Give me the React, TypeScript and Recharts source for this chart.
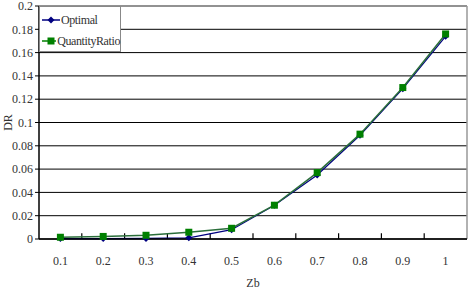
import React from 'react';
import { CartesianGrid, Line, LineChart, ReferenceLine, XAxis, YAxis } from 'recharts';

const zb = [0.1, 0.2, 0.3, 0.4, 0.5, 0.6, 0.7, 0.8, 0.9, 1];
const optimal = [0.0004, 0.0004, 0.0005, 0.001, 0.008, 0.029, 0.055, 0.089, 0.129, 0.174];
const quantityRatio = [0.0015, 0.0022, 0.0032, 0.0058, 0.0092, 0.029, 0.057, 0.09, 0.13, 0.176];
const yTicks = [0, 0.02, 0.04, 0.06, 0.08, 0.1, 0.12, 0.14, 0.16, 0.18, 0.2];
const splitTicks = [0.15, 0.25, 0.35, 0.45, 0.55, 0.65, 0.75, 0.85, 0.95];

const NAVY = '#000080';
const GREEN = '#008000';
const GREEN_LINE = '#2a6e3a';
const FONT = "'Liberation Serif', 'DejaVu Serif', 'Times New Roman', Times, serif";
const TEXT = '#333';

const data = zb.map((z, i) => ({ zb: z, optimal: optimal[i], quantityRatio: quantityRatio[i] }));

function Diamond(props: any) {
  const { cx, cy } = props;
  if (cx == null || cy == null) return null;
  return <path d={`M${cx},${cy - 3.5}L${cx + 3.5},${cy}L${cx},${cy + 3.5}L${cx - 3.5},${cy}Z`} fill={NAVY} />;
}

function Square(props: any) {
  const { cx, cy } = props;
  if (cx == null || cy == null) return null;
  return <rect x={cx - 3.5} y={cy - 3.5} width={7} height={7} fill={GREEN} />;
}

function LegendBox() {
  const row = (label: string, color: string, marker: React.ReactNode) => (
    <div style={{ display: 'flex', alignItems: 'center', height: 21 }}>
      <svg width={18} height={10}>
        <line x1={0} y1={5} x2={18} y2={5} stroke={color} strokeWidth={1.5} />
        {marker}
      </svg>
      <span style={{ marginLeft: 1 }}>{label}</span>
    </div>
  );
  return (
    <div
      style={{
        position: 'absolute',
        left: 39,
        top: 6,
        border: '1px solid #888',
        background: '#fff',
        width: 82,
        height: 46,
        padding: '2px 0 0 2px',
        boxSizing: 'border-box',
        fontFamily: FONT,
        fontSize: 12,
        color: TEXT,
        lineHeight: '14px',
        letterSpacing: -0.4,
        whiteSpace: 'nowrap',
      }}
    >
      {row('Optimal', NAVY, <path d="M9,1.5L12.5,5L9,8.5L5.5,5Z" fill={NAVY} />)}
      {row('QuantityRatio', GREEN, <rect x={5.5} y={1.5} width={7} height={7} fill={GREEN} />)}
    </div>
  );
}

const tickStyle = { fontSize: 12, fill: TEXT, fontFamily: FONT };

export default function App() {
  return (
    <div
      style={{
        position: 'absolute',
        left: 0,
        top: 0,
        width: 469,
        height: 290,
        background: '#fff',
        fontFamily: FONT,
      }}
    >
      <LineChart
        width={469}
        height={290}
        data={data}
        margin={{ top: 6, right: 2, left: 0, bottom: 0 }}
        style={{ fontFamily: FONT }}
      >
        <CartesianGrid vertical={false} stroke="#000" strokeWidth={1} />
        <XAxis
          dataKey="zb"
          type="number"
          domain={[0.05, 1.05]}
          ticks={zb}
          interval={0}
          tickLine={false}
          axisLine={{ stroke: '#000', strokeWidth: 1.5 }}
          tickSize={0}
          tickMargin={17}
          height={51}
          tick={tickStyle}
          label={{ value: 'Zb', position: 'insideBottom', offset: 3, ...tickStyle }}
        />
        <YAxis
          domain={[0, 0.2]}
          ticks={yTicks}
          interval={0}
          width={39}
          tickSize={4}
          tickMargin={2}
          axisLine={{ stroke: '#000', strokeWidth: 1.5 }}
          tickLine={{ stroke: '#000' }}
          tick={tickStyle}
          tickFormatter={(v) => String(v)}
          label={{
            value: 'DR',
            content: (p: any) => (
              <text
                x={p.viewBox.x + 8}
                y={p.viewBox.y + p.viewBox.height / 2}
                transform={`rotate(-90 ${p.viewBox.x + 8} ${p.viewBox.y + p.viewBox.height / 2})`}
                textAnchor="middle"
                dominantBaseline="central"
                fontSize={12}
                fill={TEXT}
                fontFamily={FONT}
              >
                DR
              </text>
            ),
          }}
        />
        <ReferenceLine y={0.2} stroke="#999" strokeWidth={1.5} />
        <ReferenceLine x={1.05} stroke="#999" strokeWidth={1.5} />
        {splitTicks.map((t) => (
          <ReferenceLine
            key={t}
            segment={[
              { x: t, y: 0 },
              { x: t, y: 0.005 },
            ]}
            stroke="#000"
            strokeWidth={1.2}
            ifOverflow="visible"
          />
        ))}
        <Line
          dataKey="optimal"
          name="Optimal"
          type="linear"
          stroke={NAVY}
          strokeWidth={1.2}
          dot={<Diamond />}
          activeDot={false}
          isAnimationActive={false}
        />
        <Line
          dataKey="quantityRatio"
          name="QuantityRatio"
          type="linear"
          stroke={GREEN_LINE}
          strokeWidth={1.5}
          dot={<Square />}
          activeDot={false}
          isAnimationActive={false}
        />
      </LineChart>
      <LegendBox />
    </div>
  );
}
